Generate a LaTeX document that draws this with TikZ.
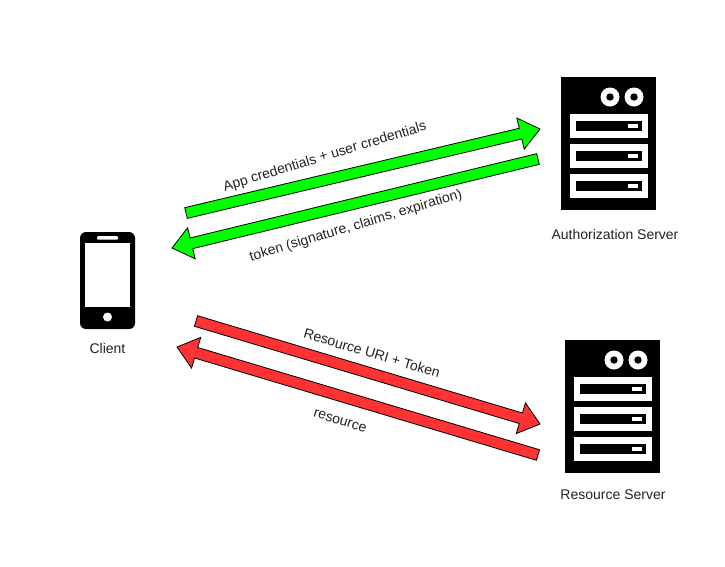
\documentclass[tikz,border=0pt]{standalone}
\usepackage{fontspec}
\setmainfont{Liberation Sans}
\usetikzlibrary{calc}

\definecolor{arrowgreen}{HTML}{00FF00}
\definecolor{arrowred}{HTML}{FF3333}
\definecolor{labeltext}{HTML}{222222}

% block arrow from #1 to #2, filled with #3
\newcommand{\blockarrow}[3]{
  \coordinate (neck) at ($(#2)!20pt!(#1)$);
  \draw[fill=#3,line width=0.8pt,line join=miter]
    ($(#1)!5.5pt!90:(#2)$) -- ($(neck)!5.5pt!90:(#2)$) -- ($(neck)!16pt!90:(#2)$) -- (#2)
    -- ($(neck)!16pt!-90:(#2)$) -- ($(neck)!5.5pt!-90:(#2)$) -- ($(#1)!5.5pt!-90:(#2)$) -- cycle;
}

\tikzset{
  caption/.style={text=labeltext,font=\fontsize{14}{16}\selectfont,inner sep=0pt},
  server/.pic={
    \fill[black] (0,0) rectangle (95,133);
    \foreach \cx in {49,73}{
      \fill[white] (\cx,20) circle (9.5pt);
      \fill[black] (\cx,20) circle (3.7pt);
    }
    \foreach \sy in {37,67,97}{
      \fill[white] (9,\sy) rectangle (87,\sy+23.5);
      \fill[black] (15,\sy+6.5) rectangle (81,\sy+17);
      \fill[white] (67,\sy+10) rectangle (77,\sy+14);
    }
  }
}

\begin{document}
\begin{tikzpicture}[x=1pt,y=-1pt]
  \useasboundingbox (0,0) rectangle (725,566);

  % servers
  \pic at (561,77) {server};
  \pic at (565,340) {server};

  % phone
  \fill[black,rounded corners=6pt] (80,232) rectangle (135,329);
  \fill[white] (85,243) rectangle (130,307);
  \fill[white,rounded corners=1pt] (97,236) rectangle (118,239.5);
  \fill[white] (107.5,317) circle (4.5pt);

  \node[caption](authlabel) at (615,234){Authorization Server};
  \node[caption](resourcelabel) at (613,495){Resource Server};
  \node[caption](clientlabel) at (107.5,348){Client};

  % arrow ends
  \coordinate (g1a) at (186,213);
  \coordinate (g1b) at (540,129);
  \coordinate (g2a) at (538,159);
  \coordinate (g2b) at (172,248);
  \coordinate (r1a) at (196,321);
  \coordinate (r1b) at (540,424);
  \coordinate (r2a) at (538,455);
  \coordinate (r2b) at (177,347);

  \blockarrow{g1a}{g1b}{arrowgreen}
  \blockarrow{g2a}{g2b}{arrowgreen}
  \blockarrow{r1a}{r1b}{arrowred}
  \blockarrow{r2a}{r2b}{arrowred}

  \node[caption,rotate=16.8](applabel) at (325,157){App credentials + user credentials};
  \node[caption,rotate=16.7](tokenlabel) at (356,226){token (signature, claims, expiration)};
  \node[caption,rotate=-16.4](urilabel) at (372,353){Resource URI + Token};
  \node[caption,rotate=-17](resourcetext) at (340,421){resource};
\end{tikzpicture}
\end{document}
